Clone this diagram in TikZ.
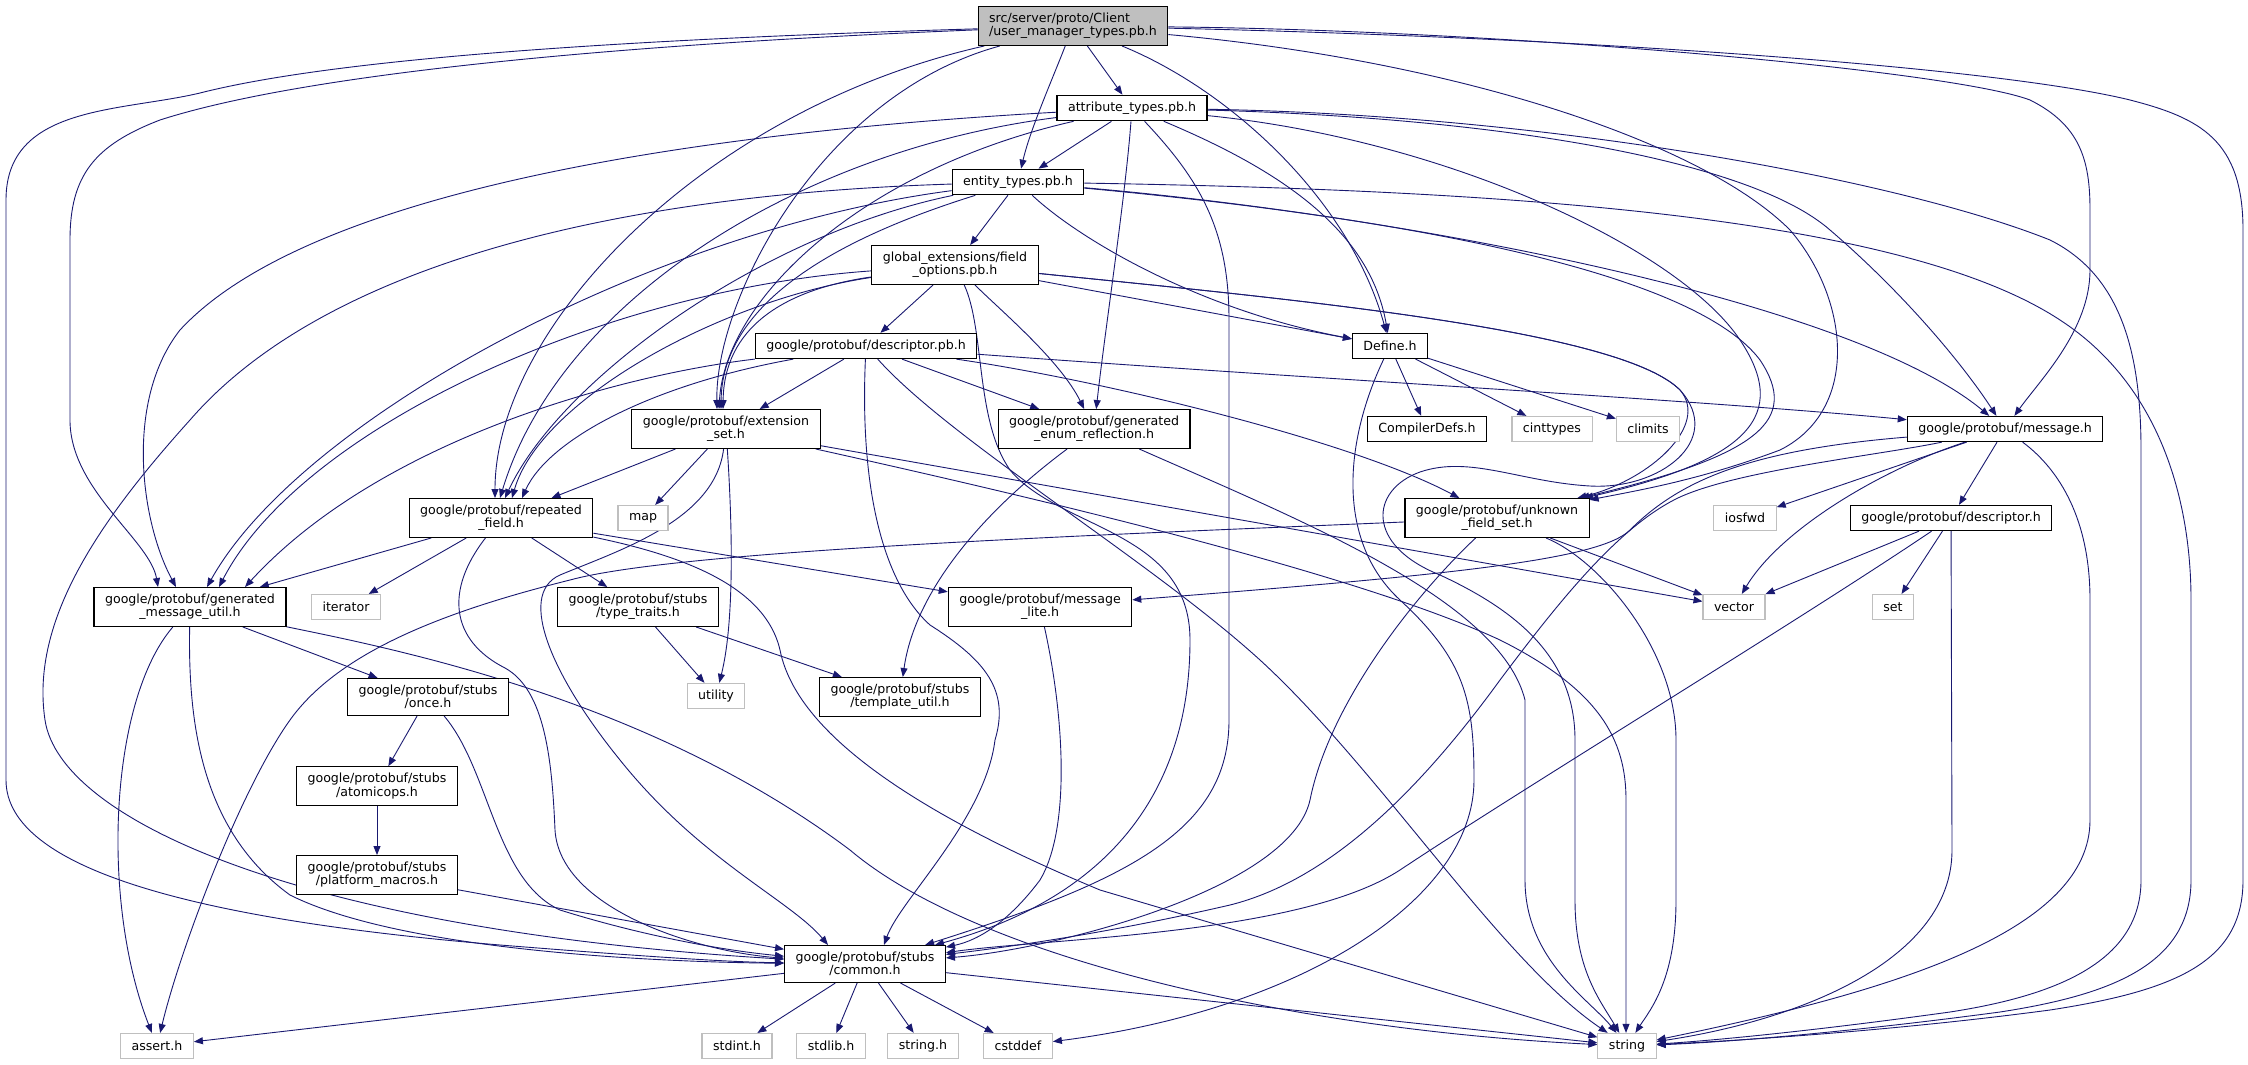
\documentclass[tikz,border=0pt]{standalone}
\usepackage{fontspec}
\setmainfont{DejaVu Sans}
\usetikzlibrary{arrows.meta}
\definecolor{edgeblue}{HTML}{191970}
\definecolor{boxgray}{HTML}{BFBFBF}
\pgfdeclarelayer{bg}
\pgfsetlayers{bg,main}

\begin{document}
\begin{tikzpicture}[
    x=1pt, y=-1pt,
    every node/.style={draw, line width=1.1pt, fill=white, inner xsep=11pt, inner ysep=6.5pt,
      minimum height=25pt, align=center, font=\fontsize{12.6}{13.3}\selectfont},
    sys/.style={draw=boxgray},
    dep/.style={draw=edgeblue, line width=0.9pt, -{Triangle[length=9pt,width=7pt]}}]

\useasboundingbox (0,0) rectangle (2248,1065);

\node[fill=boxgray, align=left] (root) at (1073,26) {src/server/proto/Client\\/user\_manager\_types.pb.h};
\node (attr) at (1132,108) {attribute\_types.pb.h};
\node (entity) at (1018,182) {entity\_types.pb.h};
\node (gext) at (955,265) {global\_extensions/field\\\_options.pb.h};
\node (descpb) at (866,346) {google/protobuf/descriptor.pb.h};
\node (defh) at (1390,346) {Define.h};
\node (extset) at (726,429) {google/protobuf/extension\\\_set.h};
\node (genenum) at (1094,429) {google/protobuf/generated\\\_enum\_reflection.h};
\node (compdefs) at (1427,429) {CompilerDefs.h};
\node[sys] (cinttypes) at (1552,429) {cinttypes};
\node[sys] (climits) at (1648,429) {climits};
\node (msg) at (2005,429) {google/protobuf/message.h};
\node (repfield) at (501,518) {google/protobuf/repeated\\\_field.h};
\node[sys] (mapx) at (643,518) {map};
\node (ufs) at (1497,518) {google/protobuf/unknown\\\_field\_set.h};
\node[sys] (iosfwd) at (1745,518) {iosfwd};
\node (desch) at (1951,518) {google/protobuf/descriptor.h};
\node (gmu) at (190,607) {google/protobuf/generated\\\_message\_util.h};
\node[sys] (iterator) at (346,607) {iterator};
\node (typetraits) at (638,607) {google/protobuf/stubs\\/type\_traits.h};
\node (msglite) at (1040,607) {google/protobuf/message\\\_lite.h};
\node[sys] (vector) at (1734,607) {vector};
\node[sys] (setx) at (1893,607) {set};
\node (once) at (428,697) {google/protobuf/stubs\\/once.h};
\node[sys] (utility) at (716,696) {utility};
\node (tmplutil) at (900,697) {google/protobuf/stubs\\/template\_util.h};
\node (atomicops) at (377,786) {google/protobuf/stubs\\/atomicops.h};
\node (platmacros) at (377,875) {google/protobuf/stubs\\/platform\_macros.h};
\node (common) at (865,964) {google/protobuf/stubs\\/common.h};
\node[sys] (asserth) at (157,1046) {assert.h};
\node[sys] (stdinth) at (737,1046) {stdint.h};
\node[sys] (stdlibh) at (831,1046) {stdlib.h};
\node[sys] (stringh) at (923,1046) {string.h};
\node[sys] (cstddef) at (1018,1046) {cstddef};
\node[sys] (string) at (1627,1046) {string};

\begin{pgfonlayer}{bg}
\draw[dep] (root) -- (attr);
\draw[dep] (root) .. controls (1052,80) and (1030,130) .. (entity);
\draw[dep] (root) .. controls (1230,90) and (1350,200) .. (defh);
\draw[dep] (root) .. controls (1500,30) and (1950,70) .. (2030,100) .. controls (2080,125) and (2090,160) .. (2090,210) -- (2090,270) .. controls (2090,330) and (2040,380) .. (msg);
\draw[dep] (root) .. controls (1600,38) and (2000,68) .. (2130,100) .. controls (2200,118) and (2243,140) .. (2243,230) -- (2243,880) .. controls (2243,960) and (2180,990) .. (2050,1010) .. controls (1900,1030) and (1750,1040) .. (string);
\draw[dep] (root) .. controls (1450,60) and (1700,140) .. (1790,230) .. controls (1850,300) and (1860,410) .. (1780,450) .. controls (1700,480) and (1640,490) .. (ufs);
\draw[dep] (root) .. controls (600,40) and (330,60) .. (200,93) .. controls (120,112) and (6,105) .. (6,200) -- (6,780) .. controls (6,870) and (200,920) .. (500,945) .. controls (650,957) and (730,962) .. (common);
\draw[dep] (root) .. controls (600,45) and (300,75) .. (160,120) .. controls (95,145) and (70,175) .. (70,240) -- (70,420) .. controls (70,490) and (150,540) .. ([xshift=-32pt]gmu.north);
\draw[dep] (root) .. controls (700,110) and (495,330) .. ([xshift=-6pt]repfield.north);
\draw[dep] (root) .. controls (820,95) and (715,300) .. ([xshift=-9pt]extset.north);

\draw[dep] (attr) -- (entity);
\draw[dep] (attr) .. controls (650,135) and (300,200) .. (180,330) .. controls (125,400) and (140,520) .. ([xshift=-14pt]gmu.north);
\draw[dep] (attr) .. controls (800,150) and (560,300) .. ([xshift=-1pt]repfield.north);
\draw[dep] (attr) .. controls (860,170) and (725,300) .. ([xshift=-7pt]extset.north);
\draw[dep] (attr) .. controls (1125,200) and (1105,330) .. (genenum);
\draw[dep] (attr) .. controls (1200,180) and (1229,230) .. (1229,320) -- (1229,720) .. controls (1229,830) and (1130,880) .. (common);
\draw[dep] (attr) .. controls (1280,170) and (1370,230) .. (defh);
\draw[dep] (attr) .. controls (1500,118) and (1750,160) .. (1830,230) .. controls (1900,290) and (1960,360) .. (msg);
\draw[dep] (attr) .. controls (1550,115) and (1900,180) .. (2050,240) .. controls (2120,275) and (2141,350) .. (2141,450) -- (2141,880) .. controls (2141,960) and (2060,995) .. (1950,1012) .. controls (1820,1030) and (1720,1040) .. (string);
\draw[dep] (attr) .. controls (1450,140) and (1680,250) .. (1740,340) .. controls (1790,415) and (1750,460) .. (ufs);

\draw[dep] (entity) -- (gext);
\draw[dep] (entity) .. controls (1080,240) and (1200,310) .. (defh);
\draw[dep] (entity) .. controls (1500,190) and (1900,215) .. (2060,320) .. controls (2160,385) and (2191,500) .. (2191,600) -- (2191,880) .. controls (2191,965) and (2110,995) .. (2000,1012) .. controls (1850,1032) and (1730,1042) .. (string);
\draw[dep] (entity) .. controls (1400,215) and (1850,300) .. (msg);
\draw[dep] (entity) .. controls (1450,222) and (1700,280) .. (1760,360) .. controls (1800,420) and (1760,455) .. (ufs);
\draw[dep] (entity) .. controls (600,195) and (320,270) .. (190,420) .. controls (100,520) and (30,620) .. (45,720) .. controls (60,820) and (300,930) .. (common);
\draw[dep] (entity) .. controls (650,230) and (300,420) .. ([xshift=17pt]gmu.north);
\draw[dep] (entity) .. controls (760,235) and (560,380) .. ([xshift=4pt]repfield.north);
\draw[dep] (entity) .. controls (800,250) and (722,320) .. ([xshift=-5pt]extset.north);

\draw[dep] (gext) -- (descpb);
\draw[dep] (gext) .. controls (1000,310) and (1060,360) .. (genenum);
\draw[dep] (gext) .. controls (985,330) and (975,420) .. (1010,470) .. controls (1060,530) and (1190,530) .. (1190,640) .. controls (1190,800) and (1100,900) .. (common);
\draw[dep] (gext) -- (defh);
\draw[dep] (gext) .. controls (1300,300) and (1620,330) .. (1680,390) .. controls (1710,425) and (1650,480) .. (ufs);
\draw[dep] (gext) .. controls (1300,300) and (1620,330) .. (1680,390) .. controls (1725,440) and (1660,490) .. (1590,486) .. controls (1520,482) and (1470,455) .. (1420,472) .. controls (1370,490) and (1365,545) .. (1440,575) .. controls (1520,612) and (1575,660) .. (1575,740) -- (1575,900) .. controls (1575,970) and (1600,1000) .. (string);
\draw[dep] (gext) .. controls (780,290) and (724,330) .. ([xshift=-3pt]extset.north);
\draw[dep] (gext) .. controls (720,300) and (540,400) .. ([xshift=11pt]repfield.north);
\draw[dep] (gext) .. controls (600,290) and (300,430) .. ([xshift=29pt]gmu.north);

\draw[dep] (descpb) -- (extset);
\draw[dep] (descpb) -- (genenum);
\draw[dep] (descpb) .. controls (1100,380) and (1350,440) .. (ufs);
\draw[dep] (descpb) .. controls (1300,378) and (1700,400) .. (msg);
\draw[dep] (descpb) .. controls (650,385) and (548,440) .. ([xshift=21pt]repfield.north);
\draw[dep] (descpb) .. controls (620,375) and (380,440) .. ([xshift=55pt]gmu.north);
\draw[dep] (descpb) .. controls (860,480) and (880,580) .. (930,625) .. controls (985,660) and (1010,690) .. (995,740) .. controls (985,820) and (900,900) .. ([xshift=19pt]common.north);
\draw[dep] (descpb) .. controls (950,440) and (1150,560) .. (1260,660) .. controls (1380,770) and (1500,960) .. (string);

\draw[dep] (extset) -- (repfield);
\draw[dep] (extset) -- (mapx);
\draw[dep] (extset) .. controls (732,520) and (735,620) .. (utility);
\draw[dep] (extset) .. controls (715,520) and (620,550) .. (560,575) .. controls (515,595) and (555,680) .. (620,760) .. controls (700,860) and (790,900) .. ([xshift=-37pt]common.north);
\draw[dep] (extset) -- (vector);
\draw[dep] (extset) .. controls (1000,490) and (1350,570) .. (1500,640) .. controls (1600,690) and (1626,740) .. (1626,800) -- ([xshift=-1pt]string.north);

\draw[dep] (repfield) -- (gmu);
\draw[dep] (repfield) -- (iterator);
\draw[dep] (repfield) -- (typetraits);
\draw[dep] (repfield) -- (msglite);
\draw[dep] (repfield) .. controls (445,590) and (450,640) .. (505,668) .. controls (545,690) and (552,760) .. (555,830) .. controls (560,910) and (700,952) .. (common);
\draw[dep] (repfield) .. controls (680,555) and (765,585) .. (780,650) .. controls (792,710) and (860,790) .. (1100,890) -- (string);

\draw[dep] (gmu) -- (once);
\draw[dep] (gmu) .. controls (188,720) and (200,830) .. (290,895) .. controls (400,950) and (650,962) .. (common);
\draw[dep] (gmu) .. controls (110,700) and (100,900) .. (asserth);
\draw[dep] (gmu) .. controls (400,650) and (650,700) .. (850,850) .. controls (980,960) and (1300,1030) .. (string);

\draw[dep] (once) -- (atomicops);
\draw[dep] (once) .. controls (490,770) and (495,880) .. (560,910) .. controls (640,935) and (720,950) .. (common);
\draw[dep] (atomicops) -- (platmacros);
\draw[dep] (platmacros) -- (common);
\draw[dep] (typetraits) -- (utility);
\draw[dep] (typetraits) -- (tmplutil);
\draw[dep] (genenum) .. controls (985,510) and (915,590) .. (tmplutil);
\draw[dep] (genenum) .. controls (1300,520) and (1500,600) .. (1525,700) -- (1525,880) .. controls (1525,960) and (1590,1000) .. (string);
\draw[dep] (msglite) .. controls (1065,720) and (1070,830) .. (1040,880) .. controls (1010,920) and (980,940) .. (common);

\draw[dep] (common) -- (asserth);
\draw[dep] (common) -- (stdinth);
\draw[dep] (common) -- (stdlibh);
\draw[dep] (common) -- (stringh);
\draw[dep] (common) -- (cstddef);
\draw[dep] (common) -- (string);

\draw[dep] (defh) -- (compdefs);
\draw[dep] (defh) -- (cinttypes);
\draw[dep] (defh) -- (climits);
\draw[dep] (defh) .. controls (1345,440) and (1335,540) .. (1400,600) .. controls (1465,660) and (1474,700) .. (1474,780) .. controls (1474,900) and (1300,1010) .. (cstddef);

\draw[dep] (msg) .. controls (1750,450) and (1680,480) .. (1630,530) .. controls (1600,560) and (1450,575) .. (msglite);
\draw[dep] (msg) .. controls (1880,455) and (1740,470) .. (1680,497) .. controls (1620,525) and (1560,600) .. (1500,680) .. controls (1420,790) and (1330,880) .. (1230,905) .. controls (1100,935) and (1000,948) .. (common);
\draw[dep] (msg) -- (iosfwd);
\draw[dep] (msg) .. controls (1880,470) and (1780,530) .. (vector);
\draw[dep] (msg) -- (desch);
\draw[dep] (msg) .. controls (2060,470) and (2090,520) .. (2090,600) -- (2090,820) .. controls (2090,930) and (1900,990) .. (string);

\draw[dep] (desch) -- (vector);
\draw[dep] (desch) -- (setx);
\draw[dep] (desch) .. controls (1800,620) and (1520,790) .. (1400,870) .. controls (1300,935) and (1050,938) .. (common);
\draw[dep] (desch) -- (1952,850) .. controls (1952,960) and (1800,1020) .. (string);

\draw[dep] (ufs) .. controls (1100,535) and (680,550) .. (570,580) .. controls (450,610) and (340,650) .. (290,720) .. controls (240,790) and (180,950) .. (asserth);
\draw[dep] (ufs) -- (vector);
\draw[dep] (ufs) .. controls (1600,560) and (1676,650) .. (1676,740) -- (1676,900) .. controls (1676,980) and (1650,1010) .. (string);
\draw[dep] (ufs) .. controls (1420,590) and (1330,700) .. (1310,800) .. controls (1290,890) and (1050,950) .. (common);
\end{pgfonlayer}

\end{tikzpicture}
\end{document}
